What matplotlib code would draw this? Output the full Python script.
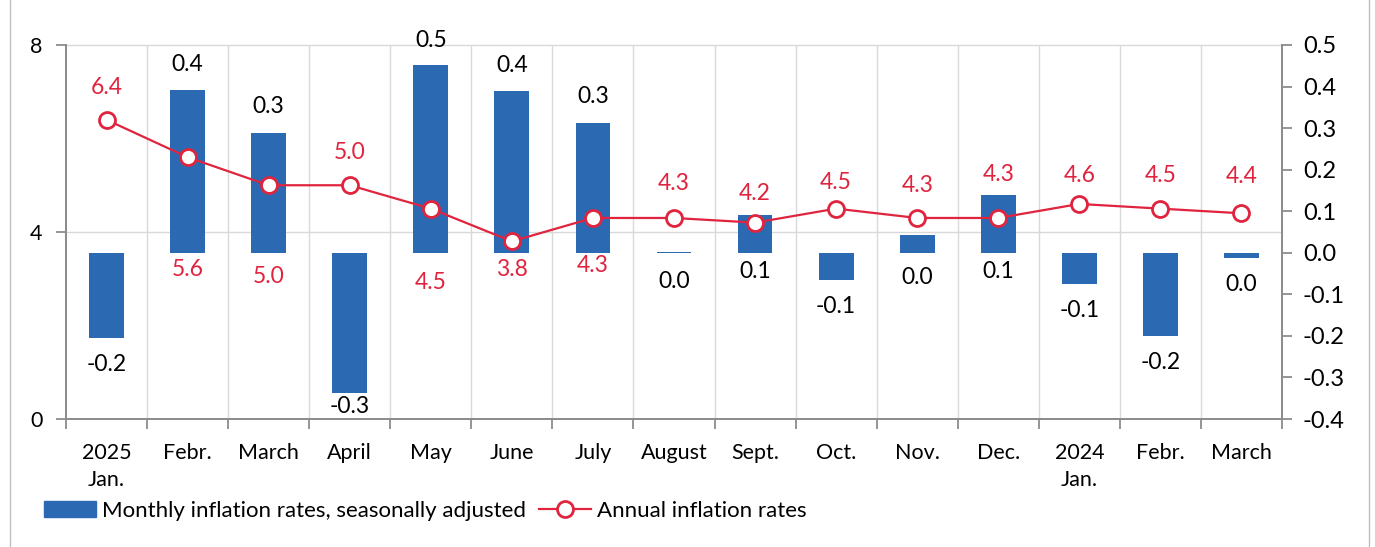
import matplotlib
matplotlib.use("Agg")
import matplotlib.pyplot as plt
import matplotlib.transforms as mtransforms
from matplotlib.lines import Line2D
import numpy as np

# ---- data ----
categories = ["2025\nJan.", "Febr.", "March", "April", "May", "June", "July", "August",
              "Sept.", "Oct.", "Nov.", "Dec.", "2024\nJan.", "Febr.", "March"]
monthly = [-0.205, 0.392, 0.289, -0.337, 0.452, 0.390, 0.313, 0.003,
           0.091, -0.065, 0.043, 0.140, -0.075, -0.200, -0.012]
annual = [6.4, 5.6, 5.0, 5.0, 4.5, 3.8, 4.3, 4.3, 4.2, 4.5, 4.3, 4.3, 4.6, 4.5, 4.4]
right_ticks = [-0.4, -0.3, -0.2, -0.1, 0.0, 0.1, 0.2, 0.3, 0.4, 0.5]
left_ticks = [0, 4, 8]

# label placements (layout only)
annual_label_y = [7.10, 3.19, 3.04, 5.71, 2.93, 3.19, 3.29, 5.03, 4.83, 5.05, 5.00, 5.22, 5.20, 5.20, 5.18]
monthly_label_y = [-0.269, 0.452, 0.351, -0.371, 0.512, 0.450, 0.375, -0.070,
                   -0.046, -0.130, -0.060, -0.046, -0.140, -0.265, -0.077]

BAR = "#2B6AB3"
RED = "#E0243E"
SPINE = "#8C8C8C"
GRID = "#D9D9D9"
FONT = "Lato"
FS = 17

plt.rcParams['font.family'] = [FONT, 'DejaVu Sans']

fig = plt.figure(figsize=(13.75, 5.47), dpi=100)
ax = fig.add_axes([66/1375, 1-419/547, (1282-66)/1375, (419-45)/547])
ax2 = ax.twinx()

x = np.arange(len(categories))

ax.set_zorder(1)
ax.patch.set_visible(False)
ax2.set_zorder(2)
ax2.patch.set_visible(False)

# bars on ax (right scale)
ax.bar(x, monthly, width=0.43, color=BAR, zorder=3)
ax.set_ylim(-0.4, 0.5)
ax.set_xlim(-0.5, len(categories) - 0.5)
ax.yaxis.tick_right()
ax.set_yticks(right_ticks)
ax.set_yticklabels([f"{v:.1f}" for v in right_ticks])

# line on ax2 (left scale)
ax2.plot(x, annual, color=RED, lw=1.6, marker="o", ms=11.5, mfc="white", mec=RED, mew=2.0, zorder=5)
ax2.set_ylim(0, 8)
ax2.yaxis.tick_left()
ax2.set_yticks(left_ticks)

# horizontal gridlines (left scale) behind bars
blend = mtransforms.blended_transform_factory(ax.transAxes, ax2.transData)
for g in left_ticks[1:]:
    ax.plot([0, 1], [g, g], transform=blend, color=GRID, lw=1.0, zorder=1, clip_on=False)
# vertical gridlines at category boundaries
for b in np.arange(0.5, len(categories) - 0.5, 1):
    ax.axvline(b, color=GRID, lw=1.0, zorder=1)

# x ticks
ax.set_xticks(x)
ax.set_xticklabels(categories, fontsize=FS - 1.5, linespacing=1.45)
ax.tick_params(axis="x", which="major", length=0, pad=17)
ax.set_xticks(np.arange(-0.5, len(categories), 1), minor=True)
ax.tick_params(axis="x", which="minor", length=7, width=1.3, color=SPINE, direction="out")

ax.tick_params(axis="y", which="major", length=7, width=1.3, color=SPINE, labelsize=FS, pad=8)
ax2.tick_params(axis="y", which="major", length=7, width=1.3, color=SPINE, labelsize=FS - 1.5, pad=10)
ax2.tick_params(axis="x", length=0)

for a in (ax, ax2):
    a.spines["top"].set_visible(False)
    for s in ("left", "right", "bottom"):
        a.spines[s].set_color(SPINE)
        a.spines[s].set_linewidth(1.3)

# labels
for i, v in enumerate(annual):
    ax2.text(i, annual_label_y[i], f"{v:.1f}", color=RED, ha="center", va="center", fontsize=FS - 0.5, zorder=6)
for i, v in enumerate(monthly):
    r = round(v, 1)
    s = "0.0" if r == 0 else f"{r:.1f}"
    ax.text(i, monthly_label_y[i], s, color="black", ha="center", va="center", fontsize=FS - 0.5, zorder=6)

# legend
h1 = plt.Rectangle((0, 0), 1, 1, color=BAR)
h2 = Line2D([], [], color=RED, lw=1.6, marker="o", ms=11.5, mfc="white", mec=RED, mew=2.0)
leg = fig.legend([h1, h2], ["Monthly inflation rates, seasonally adjusted", "Annual inflation rates"],
                 loc="center left", bbox_to_anchor=(44/1375, 1-511/547), ncol=2, frameon=False,
                 fontsize=FS - 1, handlelength=2.35, handleheight=0.7, handletextpad=0.25,
                 columnspacing=0.6, borderaxespad=0, borderpad=0)

# figure border lines
fig.add_artist(Line2D([10/1375, 10/1375], [0, 1], color="#BFBFBF", lw=1.0))
fig.add_artist(Line2D([1369/1375, 1369/1375], [0, 1], color="#BFBFBF", lw=1.0))

fig.savefig("out.png", dpi=100)
